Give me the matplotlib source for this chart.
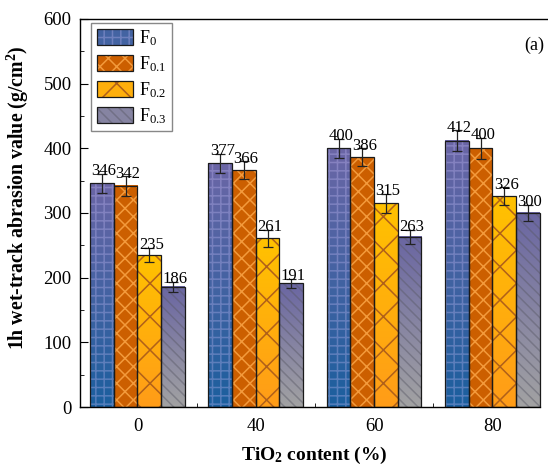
import numpy as np
import matplotlib
matplotlib.use("Agg")
import matplotlib.pyplot as plt
from matplotlib.patches import Patch
from matplotlib.colors import LinearSegmentedColormap
from matplotlib.legend_handler import HandlerTuple
from matplotlib.ticker import MultipleLocator, FixedLocator

groups = ["0", "40", "60", "80"]
series = ["F$_{0}$", "F$_{0.1}$", "F$_{0.2}$", "F$_{0.3}$"]
f0 = [346, 377, 400, 412]
f01 = [342, 366, 386, 400]
f02 = [235, 261, 315, 326]
f03 = [186, 191, 263, 300]
err_f0 = [15, 15, 15, 16]
err_f01 = [15, 14, 14, 16]
err_f02 = [11, 13, 15, 14]
err_f03 = [8, 7, 11, 13]

values = [f0, f01, f02, f03]
errors = [err_f0, err_f01, err_f02, err_f03]

# (bottom colour, top colour, hatch, hatch colour)
styles = [
    ("#1b5f9e", "#6b66a6", "++", (0.75, 0.72, 0.95, 0.35)),
    ("#cc5f00", "#cc5f00", "xx", "#f39a3c"),
    ("#ff9c18", "#ffc200", "x", "#b0601a"),
    ("#a2a2a2", "#6a66a2", "\\\\\\", (0.35, 0.35, 0.4, 0.45)),
]

plt.rcParams["font.family"] = "Liberation Serif"
plt.rcParams["mathtext.default"] = "regular"
plt.rcParams["hatch.linewidth"] = 1.1

fig = plt.figure(figsize=(5.48, 4.68), dpi=100)
ax = fig.add_axes([80 / 548, 1 - 407 / 468, 468 / 548, 388 / 468])

w = 0.2
x = np.arange(len(groups))
grad = np.linspace(1, 0, 128).reshape(-1, 1)
handles = []
for i, (vals, errs) in enumerate(zip(values, errors)):
    bottom_c, top_c, hatch, hcol = styles[i]
    cmap = LinearSegmentedColormap.from_list(f"g{i}", [bottom_c, top_c])
    xs = x + (i - 1.5) * w
    for xi, v in zip(xs, vals):
        ax.imshow(grad, extent=[xi - w / 2, xi + w / 2, 0, v], cmap=cmap,
                  vmin=0, vmax=1, aspect="auto", zorder=1, interpolation="bilinear")
    ax.bar(xs, vals, w, facecolor="none", edgecolor=hcol, hatch=hatch, lw=0, zorder=2)
    ax.bar(xs, vals, w, facecolor="none", edgecolor="#1a1a1a", lw=0.9, zorder=3)
    ax.errorbar(xs, vals, yerr=errs, fmt="none", ecolor="#222222", elinewidth=0.9,
                capsize=3.5, capthick=0.9, zorder=4)
    for xi, v, e in zip(xs, vals, errs):
        ax.annotate(str(v), (xi, v + e), xytext=(1.5, -1), textcoords="offset points",
                    ha="center", va="baseline", fontsize=12, zorder=5)
    mid = cmap(0.5)
    handles.append((Patch(facecolor=mid, edgecolor=hcol, hatch=hatch, lw=0),
                    Patch(facecolor="none", edgecolor="#1a1a1a", lw=0.9)))

ax.set_xlim(-0.486, 3.47)
ax.set_ylim(0, 600)
ax.spines["right"].set_visible(False)
ax.spines["bottom"].set_bounds(-0.486, 3.40)
for s in ax.spines.values():
    s.set_linewidth(1.0)

ax.set_xticks(x)
ax.set_xticklabels(groups)
ax.xaxis.set_minor_locator(FixedLocator([0.5, 1.5, 2.5]))
ax.yaxis.set_major_locator(MultipleLocator(100))
ax.yaxis.set_minor_locator(MultipleLocator(50))
ax.tick_params(which="both", direction="in", labelsize=13.5, top=False, right=False)
ax.tick_params(axis="x", which="major", length=6, pad=8)
ax.tick_params(axis="y", which="major", length=6, pad=6)
ax.tick_params(which="minor", length=3)

ax.set_xlabel("TiO$_2$ content (%)", fontsize=14, fontweight="bold", labelpad=7)
ax.set_ylabel("1h wet-track abrasion value (g/cm$^2$)", fontsize=14.3,
              fontweight="bold")
ax.yaxis.set_label_coords(-0.105, 0.539)

leg = ax.legend(handles, series, handler_map={tuple: HandlerTuple(ndivide=1, pad=0)},
                loc="upper left", bbox_to_anchor=(0.02, 0.995), fontsize=13,
                handlelength=2.0, handleheight=0.95, labelspacing=0.35,
                handletextpad=0.35, borderpad=0.3, borderaxespad=0.1,
                fancybox=False, framealpha=1)
leg.get_frame().set_edgecolor("#888888")
leg.get_frame().set_linewidth(1.0)

fig.text(534 / 548, 1 - 45 / 468, "(a)", fontsize=13, ha="center", va="center")

fig.savefig("out.png", dpi=100)
